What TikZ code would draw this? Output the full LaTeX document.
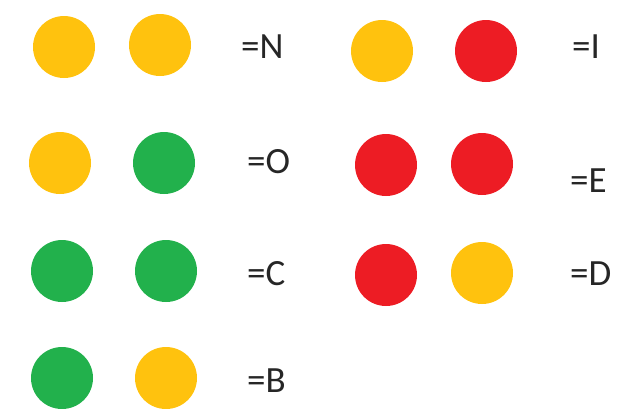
\documentclass[tikz,border=0pt]{standalone}
\usepackage{fontspec}
\setmainfont{Carlito}
\definecolor{dotyellow}{HTML}{FFC20E}
\definecolor{dotgreen}{HTML}{22B14C}
\definecolor{dotred}{HTML}{ED1C24}
\tikzset{
  dot/.style={circle, minimum size=62pt, inner sep=0pt},
  yel/.style={dot, fill=dotyellow},
  grn/.style={dot, fill=dotgreen},
  rd/.style={dot, fill=dotred},
  lbl/.style={anchor=base west, inner sep=0pt, font=\fontsize{37}{40}\selectfont, text=black!85}
}
\begin{document}
\begin{tikzpicture}[x=1pt,y=-1pt]
\useasboundingbox (0,0) rectangle (618,408);
% left column
\node[yel] (n1) at (64,47) {};
\node[yel] (n2) at (160,45) {};
\node[lbl] (nl) at (241,58) {=N};
\node[yel] (o1) at (60,163) {};
\node[grn] (o2) at (164,163) {};
\node[lbl] (ol) at (247,173) {=O};
\node[grn] (c1) at (62,271) {};
\node[grn] (c2) at (166,271) {};
\node[lbl] (cl) at (247,285) {=C};
\node[grn] (b1) at (62,378) {};
\node[yel] (b2) at (166,378) {};
\node[lbl] (bl) at (247,392) {=B};
% right column
\node[yel] (i1) at (382,51) {};
\node[rd] (i2) at (486,51) {};
\node[lbl] (il) at (572,58) {=I};
\node[rd] (e1) at (386,165) {};
\node[rd] (e2) at (482,164) {};
\node[lbl] (el) at (570,192) {=E};
\node[rd] (d1) at (386,275) {};
\node[yel] (d2) at (482,273) {};
\node[lbl] (dl) at (570,285) {=D};
\end{tikzpicture}
\end{document}
